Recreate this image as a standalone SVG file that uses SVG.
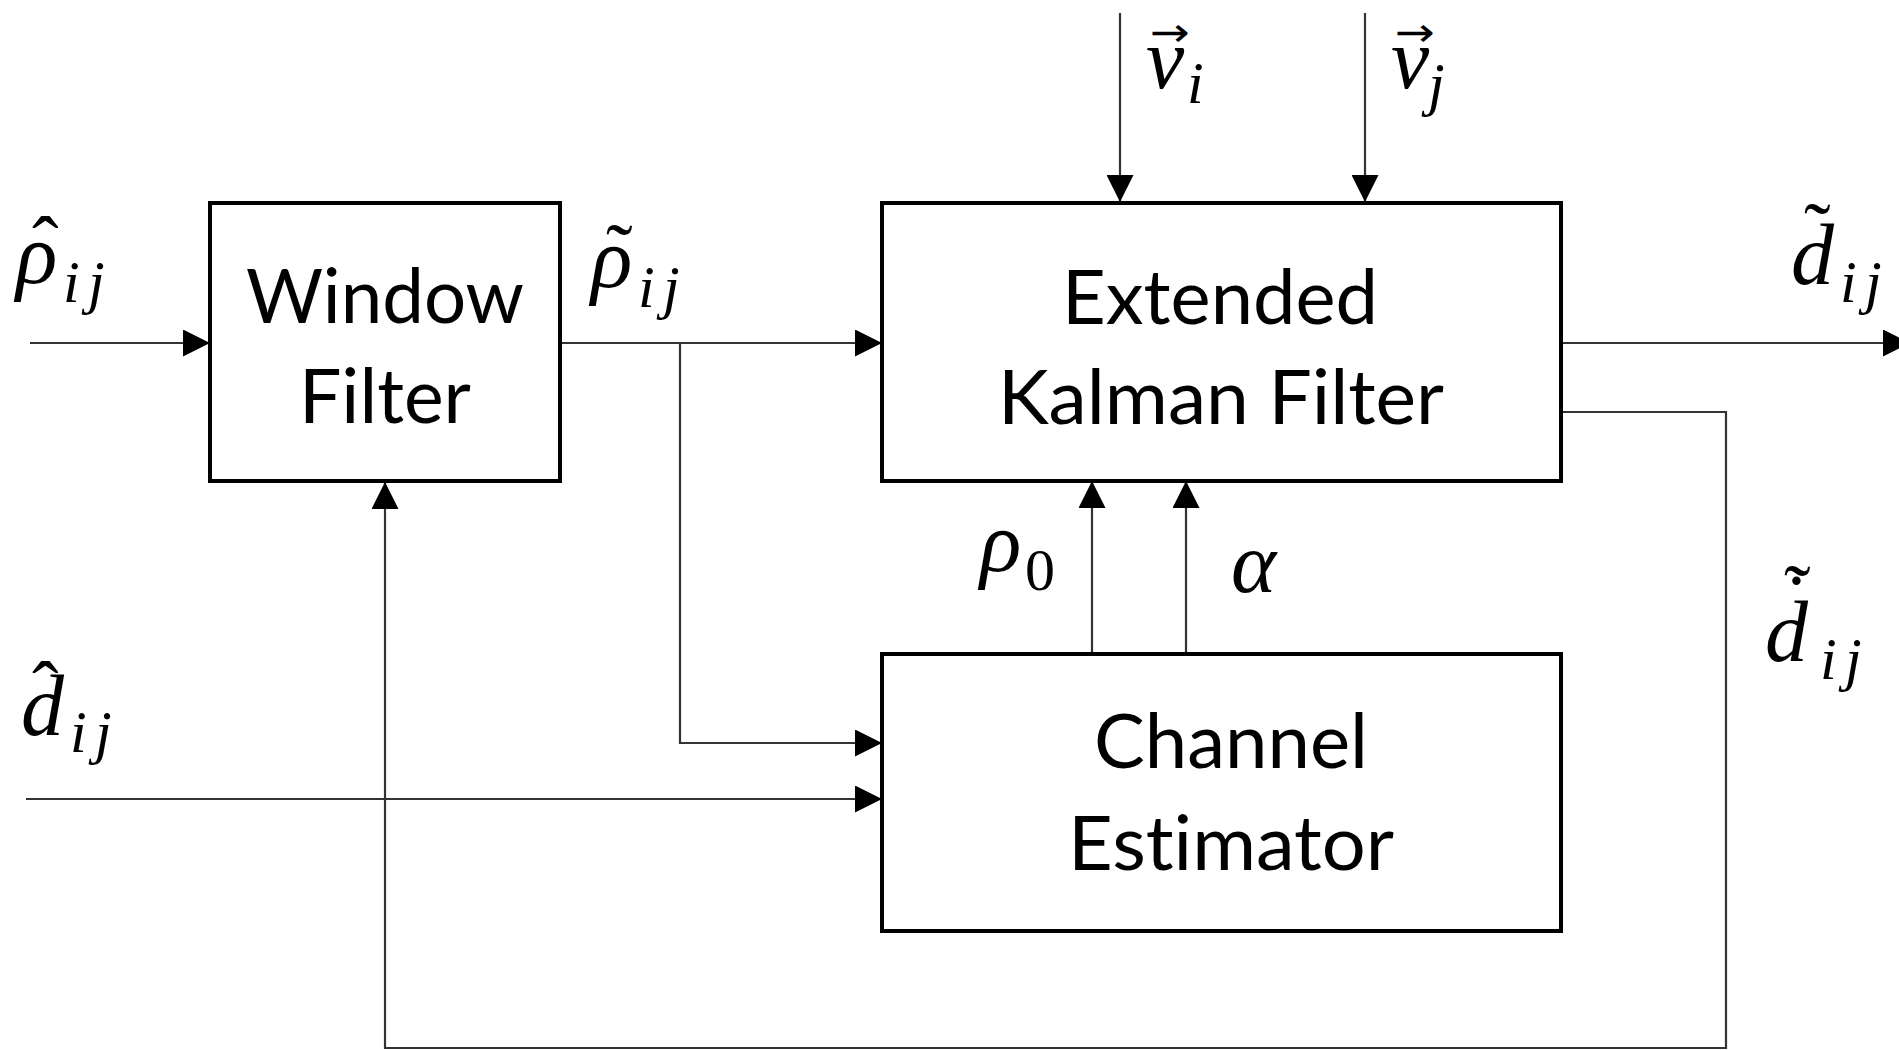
<svg xmlns="http://www.w3.org/2000/svg" width="1899" height="1050" viewBox="0 0 1899 1050">
  <style>
    .box { fill: #ffffff; stroke: #000000; stroke-width: 4; }
    .lbl { font-family: Lato, "Open Sans", "Liberation Sans", sans-serif; font-size: 76px; fill: #000000; font-variant-ligatures: none; }
    .wire { fill: none; stroke: #333333; stroke-width: 2.2; }
    .arr { marker-end: url(#head); }
    .math { font-family: "Liberation Serif", "DejaVu Serif", serif; font-style: italic; font-size: 86px; fill: #000000; }
    .s { font-size: 60px; }
    .n { font-style: normal; font-size: 60px; }
    .acc { font-style: normal; font-size: 80px; }
    .vec { font-family: "DejaVu Sans", sans-serif; font-style: normal; font-size: 40px; }
  </style>
  <defs>
    <marker id="head" markerUnits="userSpaceOnUse" markerWidth="27" markerHeight="27" refX="27" refY="13.5" orient="auto">
      <path d="M0,0 L27,13.5 L0,27 Z" fill="#000000"/>
    </marker>
  </defs>
  <rect width="1899" height="1050" fill="#ffffff"/>

  <!-- signal lines -->
  <g id="connectors">
    <path class="wire arr" d="M30,343 H210"/>
    <path class="wire arr" d="M560,343 H882"/>
    <path class="wire arr" d="M680,343 V743 H882"/>
    <path class="wire arr" d="M26,799 H882"/>
    <path class="wire arr" d="M1561,343 H1910"/>
    <path class="wire arr" d="M1120,13 V202"/>
    <path class="wire arr" d="M1365,13 V202"/>
    <path class="wire arr" d="M1092,654 V481"/>
    <path class="wire arr" d="M1186,654 V481"/>
    <path class="wire arr" d="M1561,412 H1726 V1048 H385 V482"/>
  </g>

  <!-- blocks -->
  <g id="window-filter">
    <rect class="box" x="210" y="203" width="350" height="278"/>
    <text class="lbl" x="246" y="323" textLength="278" lengthAdjust="spacingAndGlyphs">Window</text>
    <text class="lbl" x="299" y="423" textLength="172" lengthAdjust="spacingAndGlyphs">Filter</text>
  </g>
  <g id="ekf">
    <rect class="box" x="882" y="203" width="679" height="278"/>
    <text class="lbl" x="1062" y="324" textLength="316" lengthAdjust="spacingAndGlyphs">Extended</text>
    <text class="lbl" x="998" y="424" textLength="446" lengthAdjust="spacingAndGlyphs">Kalman Filter</text>
  </g>
  <g id="channel-estimator">
    <rect class="box" x="882" y="654" width="679" height="277"/>
    <text class="lbl" x="1094" y="768" textLength="274" lengthAdjust="spacingAndGlyphs">Channel</text>
    <text class="lbl" x="1068" y="870" textLength="326" lengthAdjust="spacingAndGlyphs">Estimator</text>
  </g>

  <!-- signal names: base symbol, accent and subscripts in one text each -->
  <g id="labels">
    <!-- measured range -->
    <text class="math"><tspan x="16" y="283">ρ</tspan><tspan class="acc" x="32" y="272">ˆ</tspan><tspan class="s" x="63" y="302">i</tspan><tspan class="s" x="88" y="302">j</tspan></text>
    <!-- filtered range -->
    <text class="math"><tspan x="591" y="287">ρ</tspan><tspan class="acc" x="606" y="279">˜</tspan><tspan class="s" x="638" y="307">i</tspan><tspan class="s" x="663" y="307">j</tspan></text>
    <!-- estimated distance -->
    <text class="math"><tspan x="1791" y="284">d</tspan><tspan class="acc" x="1804" y="258">˜</tspan><tspan class="s" x="1840" y="302">i</tspan><tspan class="s" x="1865" y="302">j</tspan></text>
    <!-- estimated distance rate -->
    <text class="math"><tspan x="1765" y="661">d</tspan><tspan class="acc" x="1784" y="620">˜</tspan><tspan class="acc" x="1783" y="630">˙</tspan><tspan class="s" x="1820" y="679">i</tspan><tspan class="s" x="1845" y="679">j</tspan></text>
    <!-- measured distance -->
    <text class="math"><tspan x="21" y="735">d</tspan><tspan class="acc" x="32" y="717">ˆ</tspan><tspan class="s" x="70" y="752">i</tspan><tspan class="s" x="95" y="752">j</tspan></text>
    <!-- velocities -->
    <text class="math"><tspan x="1146" y="88">v</tspan><tspan class="vec" x="1150" y="46" textLength="40" lengthAdjust="spacingAndGlyphs">→</tspan><tspan class="s" x="1187" y="103">i</tspan></text>
    <text class="math"><tspan x="1391" y="88">v</tspan><tspan class="vec" x="1395" y="46" textLength="40" lengthAdjust="spacingAndGlyphs">→</tspan><tspan class="s" x="1428" y="104">j</tspan></text>
    <!-- channel parameters -->
    <text class="math"><tspan x="980" y="571">ρ</tspan><tspan class="n" x="1025" y="590">0</tspan></text>
    <text class="math" x="1231" y="592">α</text>
  </g>
</svg>
